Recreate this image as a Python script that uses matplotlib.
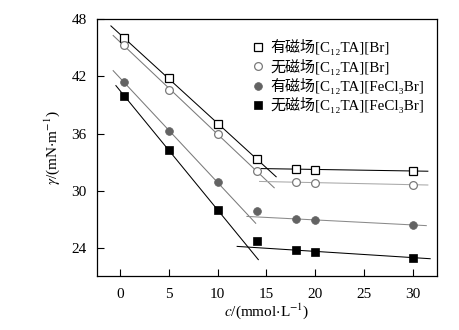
import numpy as np
import matplotlib
matplotlib.use("Agg")
import matplotlib.pyplot as plt

plt.rcParams['font.family'] = ['Liberation Serif', 'Noto Sans CJK SC']
plt.rcParams['mathtext.fontset'] = 'stix'

conc = [0.4, 5, 10, 14, 18, 20, 30]
sq_open = [46.0, 41.8, 37.05, 33.35, 32.33, 32.2, 32.1]
circ_open = [45.3, 40.6, 35.97, 32.1, 30.94, 30.84, 30.66]
circ_fill = [41.4, 36.3, 30.9, 27.9, 27.07, 26.96, 26.44]
sq_fill = [39.98, 34.26, 28.0, 24.8, 23.82, 23.64, 23.02]

labels = ['有磁场[C₁₂TA][Br]', '无磁场[C₁₂TA][Br]',
          '有磁场[C₁₂TA][FeCl₃Br]', '无磁场[C₁₂TA][FeCl₃Br]']

# number of points used for the steep fit, and fit-line extents
steep_n = [4, 4, 3, 3]
steep_range = [(-0.95, 16.0), (-0.72, 15.8), (-0.72, 13.9), (-0.44, 14.17)]
flat_range = [(14.45, 31.56), (14.3, 31.56), (13.0, 31.4), (12.0, 31.8)]

fig = plt.figure(figsize=(4.6, 3.3), dpi=100)
ax = fig.add_axes([0.210, 0.164, 0.740, 0.778])

series = [sq_open, circ_open, circ_fill, sq_fill]
mstyles = [dict(marker='s', mfc='white', mec='black', ms=5.2, mew=0.9),
           dict(marker='o', mfc='white', mec='#7a7a7a', ms=5.6, mew=0.9),
           dict(marker='o', mfc='#636363', mec='#636363', ms=5.6, mew=0.5),
           dict(marker='s', mfc='black', mec='black', ms=6.0, mew=0.5)]
steep_col = ['black', '#7a7a7a', '#7a7a7a', 'black']
flat_col = ['black', '#a8a8a8', '#8a8a8a', 'black']

x = np.array(conc)
for i, ys in enumerate(series):
    y = np.array(ys)
    n = steep_n[i]
    p1 = np.polyfit(x[:n], y[:n], 1)
    xs = np.array(steep_range[i])
    ax.plot(xs, np.polyval(p1, xs), color=steep_col[i], lw=0.75, zorder=2)
    p2 = np.polyfit(x[4:], y[4:], 1)
    xf = np.array(flat_range[i])
    ax.plot(xf, np.polyval(p2, xf), color=flat_col[i], lw=0.75, zorder=2)
    ax.plot(x, y, ls='none', label=labels[i], zorder=3, **mstyles[i])

ax.set_xlim(-2.42, 32.5)
ax.set_ylim(21.1, 48)
ax.set_xticks([0, 5, 10, 15, 20, 25, 30])
ax.set_yticks([24, 30, 36, 42, 48])
ax.tick_params(direction='in', length=5, width=0.8, labelsize=11)
ax.tick_params(axis='x', pad=9)
ax.tick_params(axis='y', pad=7)
for s in ax.spines.values():
    s.set_linewidth(0.9)

ax.set_xlabel(r'$c$/(mmol$\cdot$L$^{-1}$)', fontsize=11, labelpad=0)
ax.set_ylabel(r'$\gamma$/(mN$\cdot$m$^{-1}$)', fontsize=11, labelpad=7)

leg = ax.legend(loc='upper left', bbox_to_anchor=(0.44, 0.945), frameon=False,
                fontsize=10.8, handlelength=0.8, handletextpad=0.4,
                labelspacing=0.22, borderaxespad=0)

fig.savefig('out.png', dpi=100)
